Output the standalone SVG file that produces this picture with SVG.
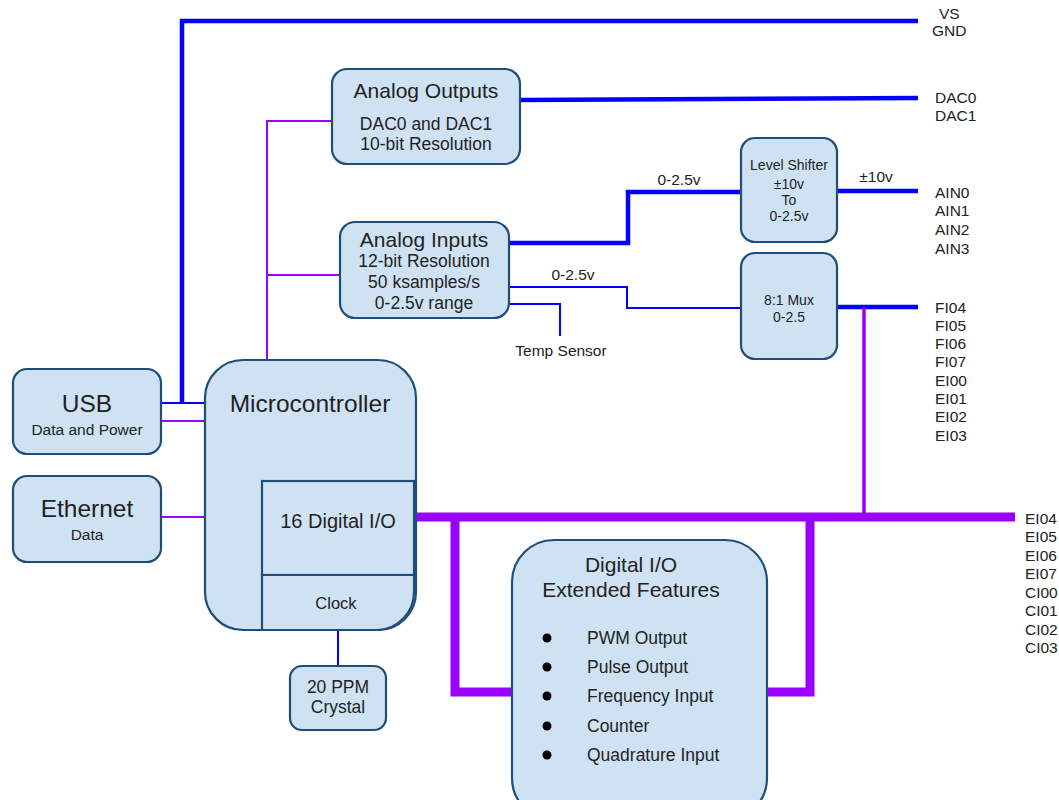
<svg xmlns="http://www.w3.org/2000/svg" width="1059" height="800" viewBox="0 0 1059 800">
<style>
.box{fill:#cfe2f3;stroke:#1f4e79;stroke-width:2.2}
text{font-family:"Liberation Sans",Arial,sans-serif;fill:#222;text-anchor:middle}
.lbl{text-anchor:start;font-size:15.5px}
.b4{stroke:#0000ff;stroke-width:4.5;fill:none}
.b2{stroke:#0000ff;stroke-width:2;fill:none}
.p2{stroke:#9900ff;stroke-width:2;fill:none}
.p9{stroke:#9900ff;stroke-width:9;fill:none}
.p3{stroke:#9900ff;stroke-width:3.5;fill:none}
.it{text-anchor:start;font-size:17.5px}
</style>
<rect width="1059" height="800" fill="#fff"/>
<g id="connectors">
<polyline class="b4" points="918,21 182,21 182,403"/>
<line class="b2" x1="161" y1="403" x2="205" y2="403"/>
<line class="p2" x1="161" y1="421" x2="205" y2="421"/>
<line class="p2" x1="161" y1="517" x2="205" y2="517"/>
<polyline class="p2" points="332,121 267,121 267,360"/>
<line class="p2" x1="267" y1="275" x2="340" y2="275"/>
<line class="b4" x1="520" y1="100" x2="918" y2="98"/>
<polyline class="b4" points="509,243 628,243 628,192 741,192"/>
<line class="b4" x1="837" y1="191" x2="918" y2="191"/>
<polyline class="b2" points="509,287 627,287 627,308 741,308"/>
<polyline class="b2" points="509,304 560,304 560,336"/>
<line class="b4" x1="837" y1="307" x2="918" y2="307"/>
<line class="p3" x1="864" y1="307" x2="864" y2="517"/>
<line class="p9" x1="414" y1="517" x2="1015" y2="517"/>
<polyline class="p9" points="455,517 455,692 512,692"/>
<polyline class="p9" points="810,517 810,692 767,692"/>
<line class="b2" x1="338" y1="630" x2="338" y2="666"/>
</g>
<g id="usb">
<rect class="box" x="13" y="369" width="148" height="85" rx="14"/>
<text x="87" y="412" font-size="24.5">USB</text>
<text x="87" y="435" font-size="15.5">Data and Power</text>
</g>
<g id="ethernet">
<rect class="box" x="13" y="476" width="148" height="86" rx="14"/>
<text x="87" y="517" font-size="24.5">Ethernet</text>
<text x="87" y="540" font-size="15.5">Data</text>
</g>
<g id="analog-outputs">
<rect class="box" x="332" y="69" width="188" height="95" rx="15"/>
<text x="426" y="98" font-size="21">Analog Outputs</text>
<text x="426" y="130" font-size="17.5">DAC0 and DAC1</text>
<text x="426" y="150" font-size="17.5">10-bit Resolution</text>
</g>
<g id="analog-inputs">
<rect class="box" x="340" y="222" width="169" height="96" rx="15"/>
<text x="424" y="247" font-size="21">Analog Inputs</text>
<text x="424" y="267" font-size="17.5">12-bit Resolution</text>
<text x="424" y="288" font-size="17.5">50 ksamples/s</text>
<text x="424" y="309" font-size="17.5">0-2.5v range</text>
</g>
<g id="level-shifter">
<rect class="box" x="741" y="138" width="96" height="104" rx="14"/>
<text x="789" y="170" font-size="14">Level Shifter</text>
<text x="789" y="189" font-size="14">±10v</text>
<text x="789" y="205" font-size="14">To</text>
<text x="789" y="221" font-size="14">0-2.5v</text>
</g>
<g id="mux">
<rect class="box" x="741" y="253" width="96" height="106" rx="14"/>
<text x="789" y="305" font-size="14">8:1 Mux</text>
<text x="789" y="322" font-size="14">0-2.5</text>
</g>
<g id="microcontroller">
<rect class="box" x="205" y="360" width="211" height="270" rx="38"/>
<text x="310" y="412" font-size="24.5">Microcontroller</text>
<rect class="box" x="262" y="481" width="152" height="94"/>
<text x="338" y="528" font-size="20">16 Digital I/O</text>
<path class="box" d="M262,575 H414 V592 A38,38 0 0 1 378,630 H262 Z"/>
<text x="336" y="609" font-size="16.5">Clock</text>
</g>
<g id="crystal">
<rect class="box" x="290" y="666" width="96" height="64" rx="12"/>
<text x="338" y="693" font-size="17.5">20 PPM</text>
<text x="338" y="713" font-size="17.5">Crystal</text>
</g>
<g id="digital-io-extended">
<rect class="box" x="512" y="540" width="255" height="280" rx="42"/>
<text x="631" y="572" font-size="21">Digital I/O</text>
<text x="631" y="597" font-size="21">Extended Features</text>
<g fill="#000"><circle cx="547" cy="638" r="4.5"/><circle cx="547" cy="667" r="4.5"/><circle cx="547" cy="696" r="4.5"/><circle cx="547" cy="726" r="4.5"/><circle cx="547" cy="755" r="4.5"/></g>
<text class="it" x="587" y="644">PWM Output</text>
<text class="it" x="587" y="673">Pulse Output</text>
<text class="it" x="587" y="702">Frequency Input</text>
<text class="it" x="587" y="732">Counter</text>
<text class="it" x="587" y="761">Quadrature Input</text>
</g>
<g id="labels">
<text class="lbl" x="939" y="19">VS</text>
<text class="lbl" x="932" y="36">GND</text>
<text class="lbl" x="935" y="103">DAC0</text>
<text class="lbl" x="935" y="121">DAC1</text>
<text x="679" y="185" font-size="15.5">0-2.5v</text>
<text x="876" y="182" font-size="15.5">±10v</text>
<text class="lbl" x="935" y="198">AIN0</text>
<text class="lbl" x="935" y="216">AIN1</text>
<text class="lbl" x="935" y="235">AIN2</text>
<text class="lbl" x="935" y="254">AIN3</text>
<text x="573" y="280" font-size="15.5">0-2.5v</text>
<text x="561" y="356" font-size="15.5">Temp Sensor</text>
<text class="lbl" x="935" y="313">FI04</text>
<text class="lbl" x="935" y="331">FI05</text>
<text class="lbl" x="935" y="349">FI06</text>
<text class="lbl" x="935" y="367">FI07</text>
<text class="lbl" x="935" y="386">EI00</text>
<text class="lbl" x="935" y="404">EI01</text>
<text class="lbl" x="935" y="422">EI02</text>
<text class="lbl" x="935" y="441">EI03</text>
<text class="lbl" x="1025" y="524">EI04</text>
<text class="lbl" x="1025" y="542">EI05</text>
<text class="lbl" x="1025" y="561">EI06</text>
<text class="lbl" x="1025" y="579">EI07</text>
<text class="lbl" x="1025" y="598">CI00</text>
<text class="lbl" x="1025" y="616">CI01</text>
<text class="lbl" x="1025" y="635">CI02</text>
<text class="lbl" x="1025" y="653">CI03</text>
</g>
</svg>
